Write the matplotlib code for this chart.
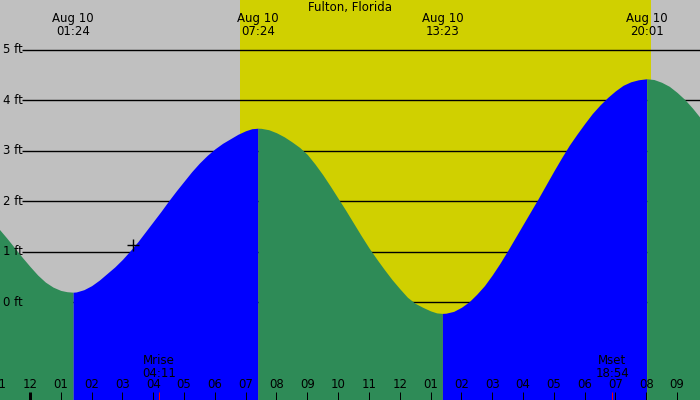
import matplotlib
matplotlib.use("Agg")
import matplotlib.pyplot as plt
import matplotlib.transforms as mtransforms

# tide heights (ft), hours from midnight Aug 10
tide_t = [-1.0, -0.75, -0.5, -0.25, 0.0, 0.25, 0.5, 0.75, 1.0, 1.2,
          1.4, 1.5, 1.75, 2.0, 2.25, 2.5, 2.75, 3.0, 3.25, 3.5, 3.75, 4.0, 4.25, 4.5, 4.75,
          5.0, 5.25, 5.5, 5.75, 6.0, 6.25, 6.5, 6.75, 7.0, 7.2,
          7.4, 7.5, 7.75, 8.0, 8.25, 8.5, 8.75, 9.0, 9.25, 9.5, 9.75, 10.0, 10.25, 10.5, 10.75,
          11.0, 11.25, 11.5, 11.75, 12.0, 12.25, 12.5, 12.75, 13.0, 13.2,
          13.383, 13.5, 13.75, 14.0, 14.25, 14.5, 14.75, 15.0, 15.25, 15.5, 15.75, 16.0, 16.25,
          16.5, 16.75, 17.0, 17.25, 17.5, 17.75, 18.0, 18.25, 18.5, 18.75, 19.0, 19.25, 19.5, 19.75,
          20.017, 20.25, 20.5, 20.75, 21.0, 21.25, 21.5, 21.75, 22.0]
tide_h = [1.45, 1.27, 1.08, 0.89, 0.71, 0.54, 0.40, 0.30, 0.235, 0.21,
          0.20, 0.205, 0.25, 0.33, 0.44, 0.57, 0.70, 0.85, 1.02, 1.20, 1.40, 1.60, 1.80, 2.01, 2.21,
          2.40, 2.59, 2.76, 2.91, 3.04, 3.15, 3.24, 3.33, 3.40, 3.44,
          3.45, 3.448, 3.42, 3.36, 3.28, 3.18, 3.07, 2.93, 2.74, 2.53, 2.30, 2.06, 1.82, 1.57, 1.32,
          1.08, 0.86, 0.65, 0.45, 0.27, 0.10, -0.02, -0.10, -0.17, -0.21,
          -0.22, -0.216, -0.18, -0.10, 0.01, 0.16, 0.33, 0.54, 0.77, 1.02, 1.28, 1.54, 1.80,
          2.06, 2.33, 2.60, 2.86, 3.11, 3.33, 3.54, 3.74, 3.91, 4.06, 4.19, 4.30, 4.37, 4.41,
          4.43, 4.415, 4.36, 4.28, 4.16, 4.02, 3.85, 3.66, 3.47]

# high / low tides
ext_t = [1.4, 7.4, 13.383, 20.017]
ext_labels = ["01:24", "07:24", "13:23", "20:01"]
date_label = "Aug 10"

sunrise = 6.82
sunset = 20.16

moon_t = [4.183, 18.9]
moon_labels = ["Mrise\n04:11", "Mset\n18:54"]

now_t = 3.343
now_h = 1.135

ft_levels = [0, 1, 2, 3, 4, 5]
hours = list(range(-1, 22))

title = "Fulton, Florida"

# pixel geometry of the original
px_per_hour = 30.81
x0_px = 30.0
px_per_ft = 50.46
y0_px = 302.3
W, H = 700, 400

xmin = -x0_px / px_per_hour
xmax = (W - x0_px) / px_per_hour
ymin = -(H - y0_px) / px_per_ft
ymax = y0_px / px_per_ft

grey = "#c0c0c0"
yellow = "#d0d000"
green = "#2e8b57"
blue = "#0000ff"
fs = 8.5

plt.rcParams['font.family'] = ['DejaVu Sans']
fig = plt.figure(figsize=(7, 4), dpi=100)
ax = fig.add_axes([0, 0, 1, 1])
ax.set_xlim(xmin, xmax)
ax.set_ylim(ymin, ymax)
ax.set_axis_off()

# night / day background
ax.axvspan(xmin, sunrise, color=grey, lw=0, zorder=0)
ax.axvspan(sunrise, sunset, color=yellow, lw=0, zorder=0)
ax.axvspan(sunset, xmax, color=grey, lw=0, zorder=0)

# grid lines (behind the water) and labels (on top)
ax.hlines(ft_levels, (22 - x0_px) / px_per_hour, xmax, color="black", lw=1.0, zorder=1)
for lv in ft_levels:
    ax.text(xmin + 3 / px_per_hour, lv, "%d ft" % lv, fontsize=fs, va="center", ha="left", zorder=4)

# tide fill: green falling, blue rising
bounds = [-1.0] + ext_t + [22.0]
for i in range(len(bounds) - 1):
    a, b = bounds[i], bounds[i + 1]
    seg_t = [t for t in tide_t if a <= t <= b]
    seg_h = [h for t, h in zip(tide_t, tide_h) if a <= t <= b]
    col = green if i % 2 == 0 else blue
    ax.fill_between(seg_t, seg_h, ymin, color=col, lw=0, zorder=2)

# current time marker
ax.plot([now_t], [now_h], marker="+", color="black", markersize=8, mew=1.0, zorder=3)

trans = mtransforms.blended_transform_factory(ax.transData, ax.transAxes)

# high/low labels on top
for t, lab in zip(ext_t, ext_labels):
    ax.text(t, 1 - 25 / H, date_label + "\n" + lab, transform=trans, fontsize=fs,
            ha="center", va="center", linespacing=1.0, zorder=4)

ax.text(0.5, 1 - 7 / H, title, transform=ax.transAxes, fontsize=fs, ha="center", va="center", zorder=4)

# hour ticks along the bottom
for hr in hours:
    lw = 3 if hr == 0 else 1
    ax.plot([hr, hr], [0, 8 / H], transform=trans, color="black", lw=lw * 0.72, zorder=4,
            solid_capstyle="butt")
    lab = hr % 12
    if lab == 0:
        lab = 12
    ax.text(hr, 15 / H, "%02d" % lab, transform=trans, fontsize=fs, ha="center", va="center", zorder=4)

# moon rise / set
for t, lab in zip(moon_t, moon_labels):
    ax.plot([t, t], [0, 8 / H], transform=trans, color="red", lw=0.72, zorder=5, solid_capstyle="butt")
    ax.text(t, 1 - 367 / H, lab, transform=trans, fontsize=fs, ha="center", va="center",
            linespacing=1.0, zorder=4)

fig.savefig("out.png", dpi=100)
